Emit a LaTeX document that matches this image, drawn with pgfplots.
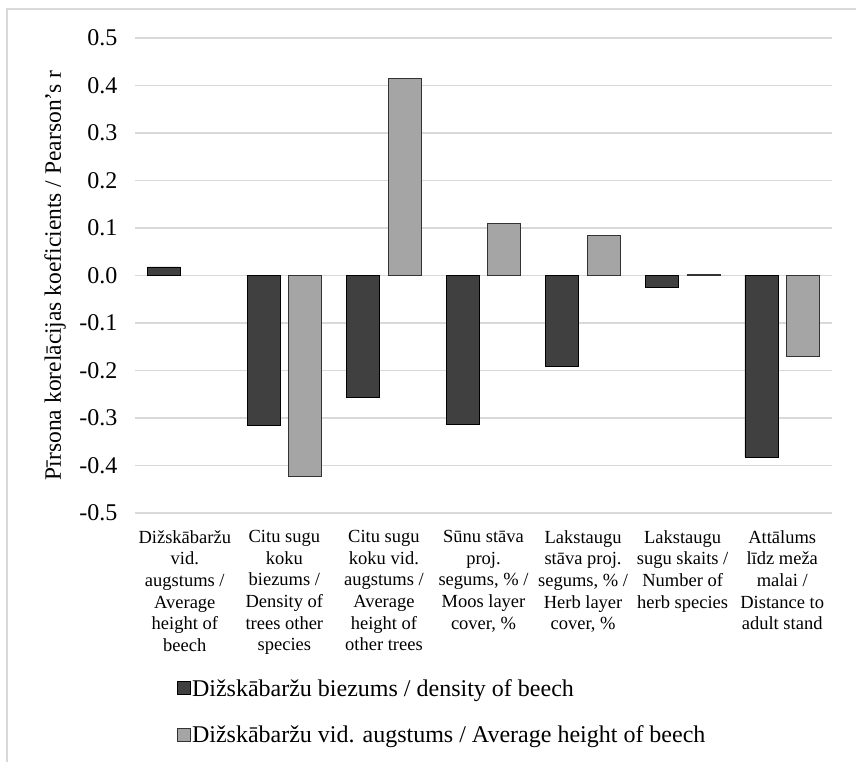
\documentclass[border=0pt]{standalone}
\usepackage{fontspec}
\setmainfont{Liberation Serif}
\usepackage{pgfplots}
\pgfplotsset{compat=1.18}
\definecolor{barDark}{HTML}{404040}
\definecolor{barLight}{HTML}{A5A5A5}
\definecolor{gridGray}{HTML}{D9D9D9}

\begin{document}
\begin{tikzpicture}[x=1pt,y=1pt]
% page area and the outer chart frame (top and left edges)
\useasboundingbox (0,0) rectangle (856,762);
\draw[gridGray, line width=1.2pt] (7,-5) -- (7,753) -- (861,753);

\begin{axis}[
  at={(135pt,249pt)}, anchor=south west,
  scale only axis, width=697pt, height=475pt,
  xmin=-0.5, xmax=6.5, ymin=-0.5, ymax=0.5,
  axis line style={draw=none},
  ymajorgrids, grid style={gridGray, line width=1.3pt},
  ytick={-0.5,-0.4,-0.3,-0.2,-0.1,0,0.1,0.2,0.3,0.4,0.5},
  yticklabels={-0.5,-0.4,-0.3,-0.2,-0.1,0.0,0.1,0.2,0.3,0.4,0.5},
  xtick={0,...,6},
  major tick length=0pt,
  clip=false,
  yticklabel style={font=\fontsize{24}{28}\selectfont, anchor=east, xshift=-14pt},
  xticklabel style={font=\fontsize{18.5}{21.7}\selectfont, align=center, anchor=north, yshift=-17pt, inner sep=0pt},
  xticklabels={
    {Dižskābaržu\\vid.\\augstums /\\Average\\height of\\beech},
    {Citu sugu\\koku\\biezums /\\Density of\\trees other\\species},
    {Citu sugu\\koku vid.\\augstums /\\Average\\height of\\other trees},
    {Sūnu stāva\\proj.\\segums, \% /\\Moos layer\\cover, \%},
    {Lakstaugu\\stāva proj.\\segums, \% /\\Herb layer\\cover, \%},
    {Lakstaugu\\sugu skaits /\\Number of\\herb species},
    {Attālums\\līdz meža\\malai /\\Distance to\\adult stand}},
  ylabel={Pīrsona korelācijas koeficients / Pearson's r},
  ylabel style={font=\fontsize{23.5}{27}\selectfont, at={(rel axis cs:0,0.5)}, anchor=center, yshift=80pt},
  legend style={draw=none, fill=none, at={(axis description cs:0.056,-0.343)}, anchor=north west,
    font=\fontsize{24}{28}\selectfont, legend cell align=left,
    /tikz/every even column/.append style={column sep=0pt},
    row sep=26pt, nodes={inner sep=1pt}},
  legend image code/.code={\draw[#1, line width=0.8pt] (0pt,-6.5pt) rectangle (13pt,6.5pt);},
]
\addplot[ybar, bar width=33pt, bar shift=-20.8pt, fill=barDark, draw=black, line width=0.8pt]
  coordinates {(0,0.018) (1,-0.316) (2,-0.256) (3,-0.313) (4,-0.191) (5,-0.026) (6,-0.382)};
\addlegendentry{Dižskābaržu biezums / density of beech}
% the first category has no visible bar in this series (r close to 0)
\addplot[ybar, bar width=33pt, bar shift=20.8pt, fill=barLight, draw=black!80, line width=0.8pt]
  coordinates {(1,-0.422) (2,0.415) (3,0.109) (4,0.084) (5,0.003) (6,-0.171)};
\addlegendentry{Dižskābaržu vid. augstums / Average height of beech}
\end{axis}
\end{tikzpicture}
\end{document}
